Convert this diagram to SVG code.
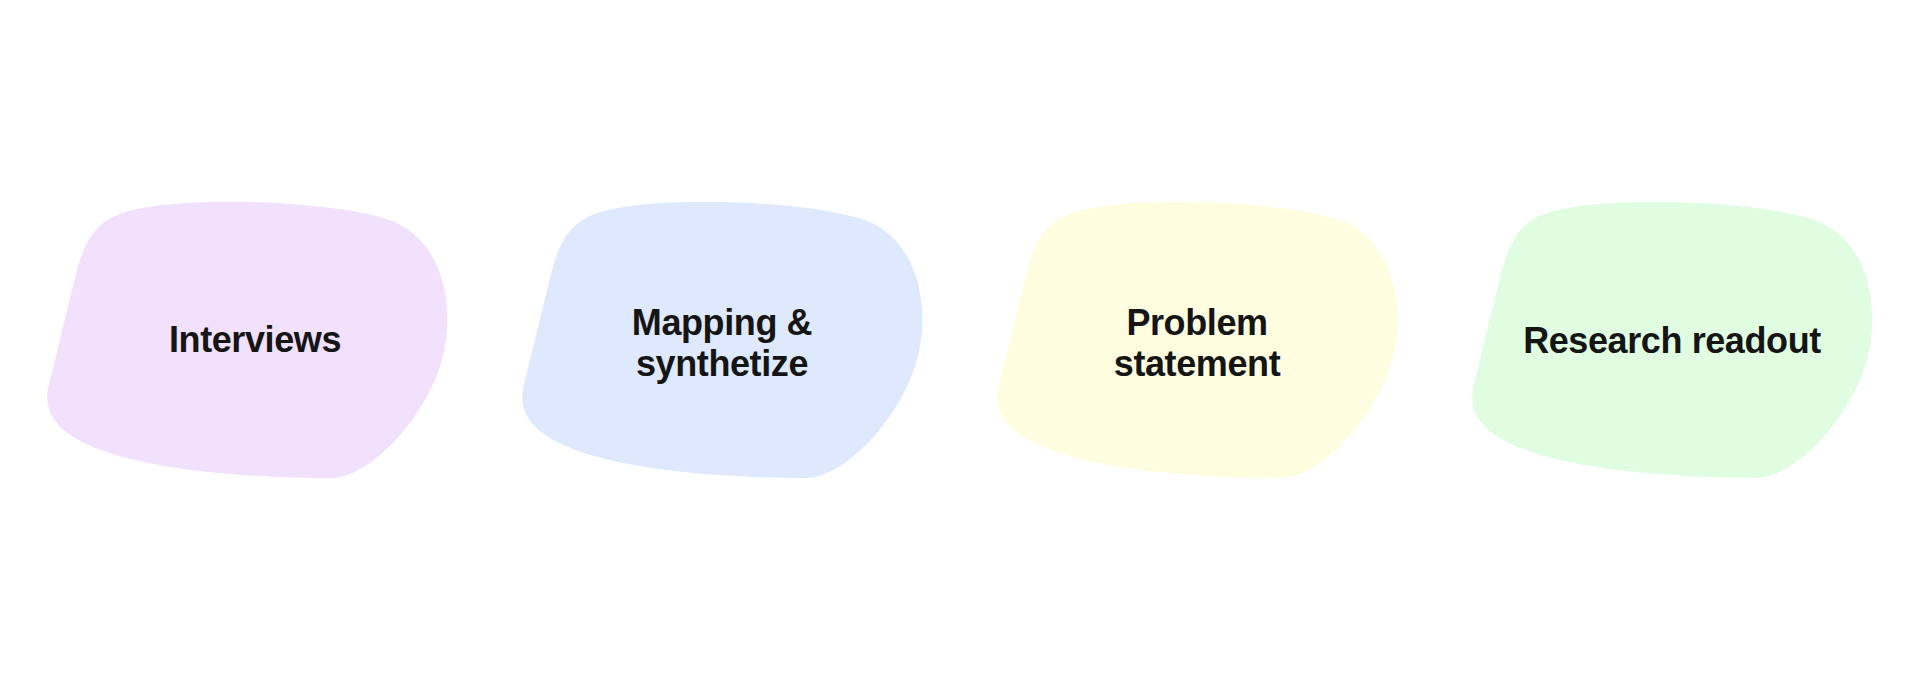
<svg xmlns="http://www.w3.org/2000/svg" width="1920" height="681" viewBox="0 0 1920 681">
<style>
.lbl{font-family:"Liberation Sans",Arial,sans-serif;font-weight:700;font-size:36px;fill:#151515;text-anchor:middle;letter-spacing:-0.4px}
</style>
<defs>
<path id="blob" d="M 333 478 C 250 478 60 470 48 405 C 46 395 48 388 50 380 L 76 274 C 86 236 98 222 122 213 C 150 204 190 202 230 202 C 300 202 365 210 395 222 C 438 242 452 292 446 340 C 438 405 375 476 333 478 Z"/>
</defs>
<rect width="1920" height="681" fill="#ffffff"/>
<g id="connectors"></g>
<g id="node-interviews">
<use href="#blob" fill="#F1E1FD"/>
<text class="lbl" x="255" y="352">Interviews</text>
</g>
<g id="node-mapping" transform="translate(475,0)">
<use href="#blob" fill="#DFE9FD"/>
<text class="lbl" x="247" y="335">Mapping &amp;</text>
<text class="lbl" x="247" y="376">synthetize</text>
</g>
<g id="node-problem" transform="translate(950,0)">
<use href="#blob" fill="#FFFDE0"/>
<text class="lbl" x="247" y="335">Problem</text>
<text class="lbl" x="247" y="376">statement</text>
</g>
<g id="node-readout" transform="translate(1425,0)">
<use href="#blob" fill="#E0FDE2"/>
<text class="lbl" x="247" y="353">Research readout</text>
</g>
</svg>
